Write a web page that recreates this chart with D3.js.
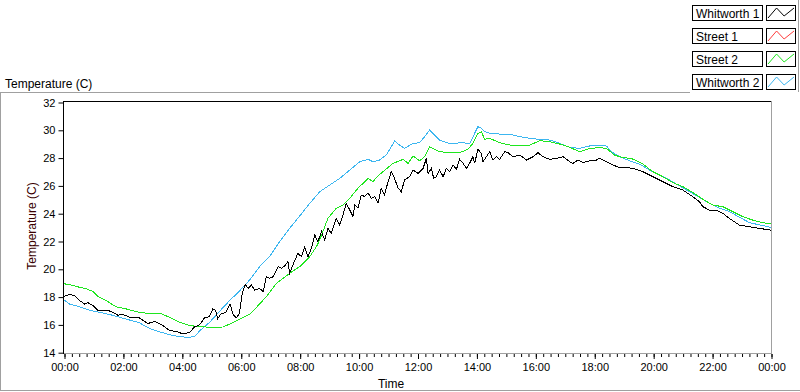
<!DOCTYPE html>
<html><head><meta charset="utf-8">
<script src="https://cdn.jsdelivr.net/npm/d3@7"></script>
<style>
body{margin:0;background:#fff;}
svg{display:block;font-family:"Liberation Sans",Arial,sans-serif;}
</style></head><body>
<svg id="c" width="800" height="392"></svg>
<script>
const seriesNames = ["Whitworth 1","Street 1","Street 2","Whitworth 2"];
const seriesColors = ["#000000","#ff3c3c","#1ee61e","#3cb6f0"];
const xTickHours = [0,2,4,6,8,10,12,14,16,18,20,22,24];
const xTickLabels = ["00:00","02:00","04:00","06:00","08:00","10:00","12:00","14:00","16:00","18:00","20:00","22:00","00:00"];
const yTicks = [14,16,18,20,22,24,26,28,30,32];

// [hour, temperature]
const whitworth1 = [[0,18.05],[0.19,18.2],[0.36,18.1],[0.53,17.75],[0.7,17.5],[0.81,17.6],[0.98,17.4],[1.15,17.05],[1.32,17.0],[1.49,17.05],[1.66,16.9],[1.83,16.7],[2.0,16.75],[2.23,16.55],[2.56,16.5],[2.85,16.1],[3.07,16.25],[3.36,15.95],[3.58,15.6],[3.86,15.5],[4.03,15.35],[4.26,15.45],[4.43,15.85],[4.6,16.0],[4.77,16.5],[4.94,16.6],[5.05,17.15],[5.14,17.05],[5.22,16.45],[5.33,16.8],[5.5,16.9],[5.64,17.5],[5.73,16.8],[5.84,16.5],[5.95,16.8],[6.05,18.25],[6.15,18.9],[6.25,18.63],[6.36,18.87],[6.47,18.51],[6.64,18.63],[6.76,18.39],[6.87,19.47],[6.98,19.35],[7.1,19.47],[7.27,20.19],[7.38,20.07],[7.49,20.24],[7.6,20.55],[7.66,19.71],[7.77,20.31],[7.94,21.15],[8.06,20.91],[8.17,21.58],[8.28,20.91],[8.4,21.51],[8.51,22.47],[8.62,21.99],[8.74,22.71],[8.85,22.11],[8.96,22.95],[9.07,22.59],[9.24,23.67],[9.36,23.19],[9.47,23.91],[9.58,24.75],[9.7,24.27],[9.81,23.79],[9.87,24.63],[9.98,24.39],[10.09,25.35],[10.21,25.23],[10.32,25.51],[10.43,25.11],[10.55,25.23],[10.66,24.75],[10.77,25.83],[10.88,25.35],[11.0,26.3],[11.11,27.02],[11.22,26.54],[11.34,25.83],[11.45,25.59],[11.56,26.42],[11.73,26.66],[11.85,27.14],[12.02,26.9],[12.19,27.26],[12.3,27.98],[12.36,26.9],[12.47,27.26],[12.55,26.54],[12.64,26.66],[12.75,27.14],[12.87,26.66],[12.98,27.26],[13.09,27.02],[13.21,27.5],[13.32,27.19],[13.43,27.91],[13.55,27.62],[13.66,27.26],[13.77,27.62],[13.88,28.1],[13.94,27.62],[14.05,28.63],[14.17,28.34],[14.22,27.74],[14.34,28.1],[14.45,28.46],[14.56,27.86],[14.68,28.1],[14.79,27.91],[14.96,28.46],[15.07,28.39],[15.24,28.1],[15.47,28.22],[15.7,27.86],[15.92,28.1],[16.09,28.39],[16.26,28.1],[16.49,27.91],[16.71,27.98],[16.94,28.1],[17.17,27.74],[17.28,27.62],[17.45,27.86],[17.62,27.67],[17.84,27.81],[18.07,27.86],[18.18,27.98],[18.35,27.81],[18.63,27.5],[18.86,27.33],[19.09,27.33],[19.31,27.26],[19.65,27.02],[19.99,26.66],[20.33,26.3],[20.67,25.94],[21.01,25.7],[21.35,25.22],[21.57,24.86],[21.69,24.5],[21.91,24.26],[22.14,24.26],[22.37,24.02],[22.59,23.66],[22.93,23.18],[23.27,23.06],[23.61,22.94],[24,22.82]];

const street1 = [];

const street2 = [[0,18.96],[0.31,18.85],[0.53,18.7],[0.76,18.6],[0.98,18.4],[1.15,18.05],[1.43,17.75],[1.77,17.3],[2.11,17.15],[2.56,16.9],[3.02,16.8],[3.24,16.85],[3.58,16.55],[3.92,16.2],[4.26,15.95],[4.49,15.9],[4.82,15.85],[5.05,15.8],[5.39,15.85],[5.62,16.05],[5.95,16.4],[6.29,16.75],[6.47,17.12],[6.87,18.03],[7.21,18.99],[7.66,19.71],[8.0,20.19],[8.34,20.91],[8.57,21.63],[8.68,22.11],[8.96,23.67],[9.24,24.39],[9.47,24.63],[9.7,25.11],[9.98,25.83],[10.32,26.54],[10.49,26.3],[10.6,26.61],[10.83,27.02],[11.17,27.62],[11.51,27.91],[11.68,27.62],[11.85,28.15],[12.07,27.8],[12.24,28.1],[12.41,28.8],[12.58,28.63],[12.75,28.46],[13.09,28.39],[13.43,28.39],[13.71,28.63],[13.88,29.06],[14.05,29.78],[14.17,29.9],[14.28,29.35],[14.45,29.42],[14.79,29.11],[15.13,28.94],[15.47,28.87],[15.81,28.94],[16.15,29.25],[16.49,29.18],[16.83,29.01],[17.17,28.77],[17.5,28.46],[17.84,28.7],[18.18,28.75],[18.41,28.7],[18.69,28.22],[18.86,28.1],[19.31,27.93],[19.65,27.57],[19.99,27.02],[20.33,26.66],[20.67,26.23],[21.01,25.94],[21.35,25.51],[21.69,25.03],[22.03,24.62],[22.37,24.5],[22.71,24.14],[23.05,23.78],[23.38,23.54],[23.72,23.35],[24,23.26]];

const whitworth2 = [[0,17.8],[0.19,17.5],[0.53,17.3],[0.87,17.05],[1.21,16.9],[1.55,16.75],[1.89,16.55],[2.23,16.35],[2.56,16.15],[2.9,15.75],[3.24,15.5],[3.58,15.3],[3.92,15.15],[4.26,15.1],[4.45,15.2],[4.62,15.6],[4.95,16.2],[5.29,17.0],[5.6,17.7],[5.96,18.45],[6.3,19.23],[6.64,20.19],[6.98,20.91],[7.32,21.99],[7.66,22.95],[8.0,23.83],[8.34,24.74],[8.68,25.58],[9.02,26.06],[9.36,26.54],[9.7,27.14],[10.04,27.74],[10.32,27.91],[10.49,27.74],[10.71,27.86],[10.94,28.22],[11.11,28.82],[11.22,29.23],[11.39,28.94],[11.56,28.7],[11.85,29.06],[12.07,29.1],[12.24,29.54],[12.41,30.02],[12.58,29.66],[12.75,29.3],[12.98,29.11],[13.2,29.01],[13.43,29.11],[13.77,29.06],[13.94,29.78],[14.05,30.26],[14.17,30.14],[14.28,29.9],[14.45,29.78],[14.79,29.73],[15.13,29.73],[15.47,29.54],[15.81,29.42],[16.15,29.35],[16.49,29.3],[16.83,29.06],[17.17,28.77],[17.5,28.7],[17.84,28.87],[18.18,28.94],[18.41,28.87],[18.63,28.39],[18.86,28.1],[19.2,27.81],[19.54,27.57],[19.88,27.14],[20.22,26.78],[20.56,26.42],[20.9,25.99],[21.23,25.58],[21.57,25.18],[21.91,24.75],[22.25,24.39],[22.59,24.15],[22.93,23.74],[23.27,23.36],[23.61,23.19],[24,23.02]];

const seriesData = [whitworth1, street1, street2, whitworth2];

const svg = d3.select("#c");
const gray = "#a0a0a0";

// outer panel frame
svg.append("line").attr("x1",0).attr("x2",690).attr("y1",92.5).attr("y2",92.5).attr("stroke",gray);
svg.append("line").attr("x1",0.5).attr("x2",0.5).attr("y1",92).attr("y2",391).attr("stroke",gray);
svg.append("line").attr("x1",0).attr("x2",800).attr("y1",390.5).attr("y2",390.5).attr("stroke",gray);
svg.append("line").attr("x1",798.5).attr("x2",798.5).attr("y1",0).attr("y2",92).attr("stroke",gray);

svg.append("text").attr("x",5).attr("y",88).attr("font-size",12).attr("fill","#000").text("Temperature (C)");

const x = d3.scaleLinear().domain([0,24]).range([64,771]);
const y = d3.scaleLinear().domain([14,32]).range([352.7,102.5]);

// plot frame
svg.append("line").attr("x1",63.5).attr("x2",772).attr("y1",101.5).attr("y2",101.5).attr("stroke","#000");
svg.append("line").attr("x1",771.5).attr("x2",771.5).attr("y1",101).attr("y2",353.5).attr("stroke",gray);
svg.append("line").attr("x1",63.5).attr("x2",772).attr("y1",353.5).attr("y2",353.5).attr("stroke",gray);
svg.append("line").attr("x1",63.5).attr("x2",63.5).attr("y1",101).attr("y2",354).attr("stroke","#000");

// axes
const xMinor = d3.axisBottom(x).tickValues(d3.range(0,24.001,0.25)).tickSize(3).tickFormat("").tickSizeOuter(0);
const gxm = svg.append("g").attr("transform","translate(0.5,354)").call(xMinor);
gxm.select(".domain").remove();
const xAxis = d3.axisBottom(x).tickValues(xTickHours).tickFormat((d,i)=>xTickLabels[i]).tickSize(5).tickPadding(4).tickSizeOuter(0);
const gx = svg.append("g").attr("transform","translate(0.5,354)").call(xAxis);
gx.select(".domain").remove();
gx.selectAll("text").attr("font-size",11).attr("font-family","Liberation Sans, Arial, sans-serif").attr("fill","#000");

const yAxis = d3.axisLeft(y).tickValues(yTicks).tickSize(5).tickPadding(3).tickSizeOuter(0);
const gy = svg.append("g").attr("transform","translate(63.5,0)").call(yAxis);
gy.select(".domain").remove();
gy.selectAll("text").attr("font-size",11).attr("font-family","Liberation Sans, Arial, sans-serif").attr("fill","#000");

svg.append("text").attr("transform","translate(36,226) rotate(-90)").attr("text-anchor","middle")
  .attr("font-size",12).attr("fill","#3a0000").text("Temperature (C)");
svg.append("text").attr("x",391).attr("y",388).attr("text-anchor","middle")
  .attr("font-size",12).attr("fill","#000").text("Time");

// series
const line = d3.line().x(d=>x(d[0])).y(d=>y(d[1]));
const order = [3,2,1,0];
order.forEach(i=>{
  if(!seriesData[i].length) return;
  svg.append("path").datum(seriesData[i]).attr("d",line).attr("fill","none")
    .attr("stroke",seriesColors[i]).attr("stroke-width",1).attr("shape-rendering","crispEdges");
});

// legend
const rowY = [5,28,51,74];
seriesNames.forEach((n,i)=>{
  const ty = rowY[i];
  svg.append("rect").attr("x",692.5).attr("y",ty+0.5).attr("width",70).attr("height",15).attr("fill","#fff").attr("stroke","#000");
  svg.append("text").attr("x",696).attr("y",ty+12.5).attr("font-size",12).attr("fill","#000").text(n);
  svg.append("rect").attr("x",766.5).attr("y",ty+0.5).attr("width",29).attr("height",15).attr("fill","#fff").attr("stroke","#000");
  const sx = d3.scaleLinear().domain([0,1]).range([768,794]);
  const sy = d3.scaleLinear().domain([0,1]).range([ty+13,ty+3]);
  const pts = [[0,0],[0.33,1],[0.62,0.2],[1,1]];
  svg.append("path").attr("d",d3.line().x(p=>sx(p[0])).y(p=>sy(p[1]))(pts)).attr("fill","none").attr("stroke",seriesColors[i]).attr("stroke-width",1);
});
</script>
</body></html>
